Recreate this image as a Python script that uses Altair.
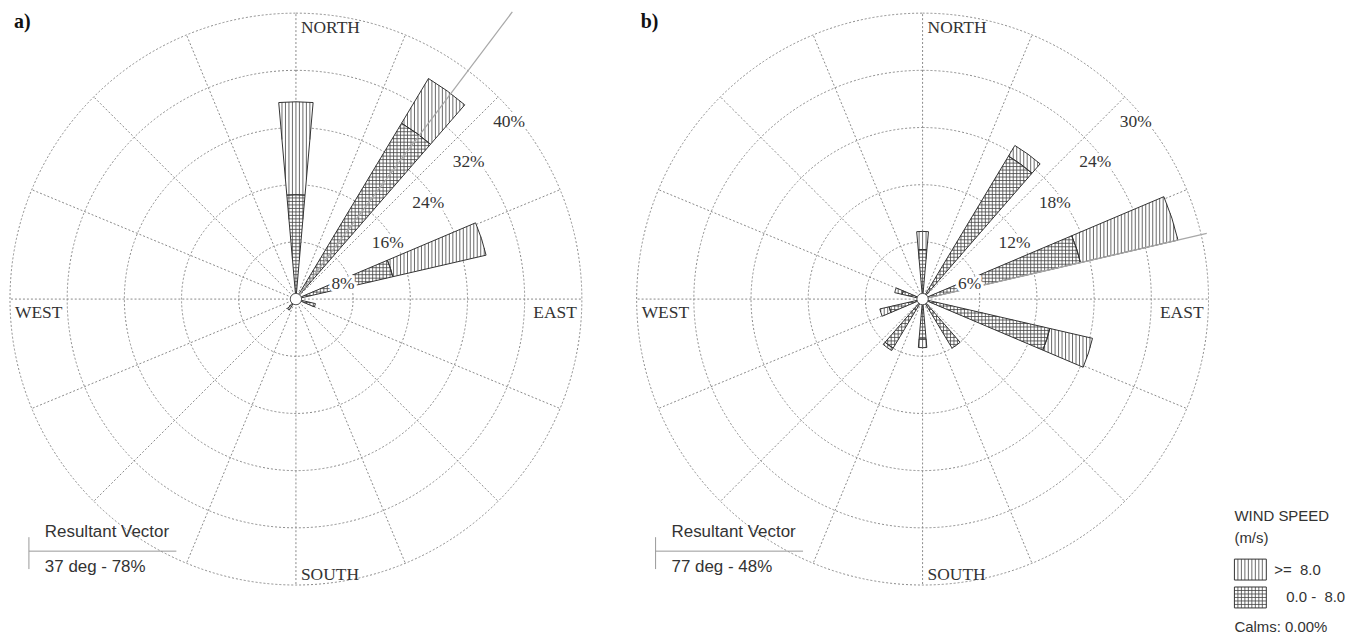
import math
import numpy as np
import pandas as pd
import altair as alt

# ---------------- data ----------------
directions_a = [0, 36, 72, 108, 216]
low_a = [14.6, 28.7, 13.9, 2.8, 1.8]        # 0.0 - 8.0 m/s, %
high_a = [13.0, 7.3, 13.4, 0.0, 0.0]        # >= 8.0 m/s, %

directions_b = [0, 36, 72, 108, 144, 180, 216, 252, 288]
low_b = [5.2, 17.5, 17.0, 13.7, 6.0, 4.2, 6.0, 3.6, 2.2]
high_b = [1.9, 1.3, 10.5, 4.6, 0.0, 0.9, 0.3, 1.0, 0.8]

ring_step = [8, 6]            # % per ring, panel a / b
ring_count = 5
resultant_dir = [37, 77]      # deg
resultant_pct = [78, 48]      # %
resultant_len = [50.3, 30.6]  # drawn length of the vector line, %
panel_tags = ["a)", "b)"]
compass_names = ["NORTH", "EAST", "SOUTH", "WEST"]
spoke_bearings = [i * 22.5 for i in range(16)]
speed_classes = [">=\u00a0\u00a08.0", "0.0 -\u00a0\u00a08.0"]
speed_kinds = ["high", "low"]
calms_pct = 0.00
sector_width = 10

# ---------------- style / layout ----------------
R_PX = 287
SIZE = 2 * R_PX
HATCH_PX = 3.5
GRID = "#8a8a8a"
INK = "#333333"
HATCH = "#444444"
TXT = "#333333"
SERIF = "Liberation Serif"
SANS = "Liberation Sans"


def wedge_mask(x, y, c, r0, r1, half):
    r = np.hypot(x, y)
    th = np.degrees(np.arctan2(x, y)) % 360.0
    d = (th - c + 180.0) % 360.0 - 180.0
    return (r >= r0) & (r <= r1) & (np.abs(d) <= half)


def runs(mask):
    m = np.concatenate([[0], mask.astype(np.int8), [0]])
    dm = np.diff(m)
    starts = np.flatnonzero(dm == 1)
    ends = np.flatnonzero(dm == -1) - 1
    return list(zip(starts, ends))


def hatch_lines(segs, spacing):
    rows = []
    half = sector_width / 2
    for _, s in segs.iterrows():
        c, r0, r1 = float(s["dir"]), float(s["r0"]), float(s["r1"])
        if r1 <= r0:
            continue
        angs = np.radians(np.linspace(c - half, c + half, 61))
        bx = np.concatenate([r0 * np.sin(angs), r1 * np.sin(angs)])
        by = np.concatenate([r0 * np.cos(angs), r1 * np.cos(angs)])
        xmin, xmax, ymin, ymax = bx.min(), bx.max(), by.min(), by.max()
        fine = spacing / 30.0
        samp = np.arange(ymin, ymax + fine, fine)
        for xv in np.arange(np.ceil(xmin / spacing), np.floor(xmax / spacing) + 1) * spacing:
            mk = wedge_mask(np.full_like(samp, xv), samp, c, r0, r1, half)
            for a, b in runs(mk):
                if b > a:
                    rows.append((xv, samp[a], xv, samp[b]))
        if s["kind"] == "low":
            samp = np.arange(xmin, xmax + fine, fine)
            for yv in np.arange(np.ceil(ymin / spacing), np.floor(ymax / spacing) + 1) * spacing:
                mk = wedge_mask(samp, np.full_like(samp, yv), c, r0, r1, half)
                for a, b in runs(mk):
                    if b > a:
                        rows.append((samp[a], yv, samp[b], yv))
    return pd.DataFrame(rows, columns=["x", "y", "x2", "y2"])


def panel(i, dirs, low, high):
    step = ring_step[i]
    D = step * ring_count
    spacing = HATCH_PX * D / R_PX
    xsc = alt.Scale(domain=[-D, D], nice=False, zero=False)
    ysc = alt.Scale(domain=[-D, D], nice=False, zero=False)
    tsc = alt.Scale(domain=[0, 360], range=[0, 2 * math.pi])
    rsc = alt.Scale(type="linear", domain=[0, D], range=[0, R_PX], nice=False, zero=True)

    def XY(xf="x", yf="y"):
        return dict(x=alt.X(f"{xf}:Q", scale=xsc, axis=None),
                    y=alt.Y(f"{yf}:Q", scale=ysc, axis=None))

    layers = []

    rings = pd.DataFrame({"r": [step * (k + 1) for k in range(ring_count)]})
    rings["t0"] = 0.0
    rings["t1"] = 360.0
    layers.append(alt.Chart(rings).mark_arc(fill="white", fillOpacity=0, stroke=GRID,
                                            strokeDash=[2, 2], strokeWidth=1).encode(
        theta=alt.Theta("t0:Q", scale=tsc, stack=None), theta2="t1:Q",
        radius=alt.Radius("r:Q", scale=rsc)))

    sp = pd.DataFrame({"b": spoke_bearings})
    sp["x"] = 0.0
    sp["y"] = 0.0
    sp["x2"] = D * np.sin(np.radians(sp["b"]))
    sp["y2"] = D * np.cos(np.radians(sp["b"]))
    layers.append(alt.Chart(sp).mark_rule(color=GRID, strokeDash=[2, 2], strokeWidth=1).encode(
        **XY(), x2="x2:Q", y2="y2:Q"))

    seg_rows = []
    for d, lo, hi in zip(dirs, low, high):
        seg_rows.append(dict(dir=d, r0=0.0, r1=lo, kind="low"))
        if hi > 0:
            seg_rows.append(dict(dir=d, r0=lo, r1=lo + hi, kind="high"))
    segs = pd.DataFrame(seg_rows)
    segs["t0"] = segs["dir"] - sector_width / 2
    segs["t1"] = segs["dir"] + sector_width / 2
    arc_enc = dict(theta=alt.Theta("t0:Q", scale=tsc, stack=None), theta2="t1:Q",
                   radius=alt.Radius("r1:Q", scale=rsc), radius2="r0:Q")
    layers.append(alt.Chart(segs).mark_arc(fill="white", strokeWidth=0).encode(**arc_enc))

    hl = hatch_lines(segs, spacing)
    layers.append(alt.Chart(hl).mark_rule(color=HATCH, strokeWidth=0.8).encode(
        **XY(), x2="x2:Q", y2="y2:Q"))

    layers.append(alt.Chart(segs).mark_arc(fill="white", fillOpacity=0, stroke=INK,
                                           strokeWidth=1).encode(**arc_enc))

    rv = pd.DataFrame({"x": [0.0], "y": [0.0],
                       "x2": [resultant_len[i] * math.sin(math.radians(resultant_dir[i]))],
                       "y2": [resultant_len[i] * math.cos(math.radians(resultant_dir[i]))]})
    layers.append(alt.Chart(rv).mark_rule(color="#a8a8a8", strokeWidth=1.3).encode(
        **XY(), x2="x2:Q", y2="y2:Q"))

    layers.append(alt.Chart(pd.DataFrame({"x": [0.0], "y": [0.0]})).mark_point(
        shape="circle", size=130, filled=True, fill="white", stroke="#555555",
        strokeWidth=1, opacity=1).encode(**XY()))

    lab = pd.DataFrame({"r": [step * (k + 1) for k in range(ring_count)]})
    lab["x"] = lab["r"] * math.sin(math.radians(45))
    lab["y"] = lab["r"] * math.cos(math.radians(45))
    lab["t"] = lab["r"].astype(int).astype(str) + "%"
    common = dict(font=SERIF, fontSize=17.5, align="left", baseline="middle", dx=-5, dy=25)
    layers.append(alt.Chart(lab).mark_text(color="white", stroke="white", strokeWidth=6,
                                           strokeJoin="round", **common).encode(**XY(), text="t:N"))
    layers.append(alt.Chart(lab).mark_text(color=TXT, **common).encode(**XY(), text="t:N"))

    cdf = pd.DataFrame({"name": compass_names, "b": [0, 90, 180, 270]})
    cdf["x"] = D * np.sin(np.radians(cdf["b"]))
    cdf["y"] = D * np.cos(np.radians(cdf["b"]))
    offs = {"NORTH": ("left", 5, 15), "EAST": ("right", -5, 14),
            "SOUTH": ("left", 5, -10), "WEST": ("left", 5, 14)}
    for nm in compass_names:
        al, dx, dy = offs[nm]
        layers.append(alt.Chart(cdf[cdf["name"] == nm]).mark_text(
            font=SERIF, fontSize=17.5, color=TXT, align=al, baseline="middle", dx=dx, dy=dy
        ).encode(**XY(), text="name:N"))

    one = pd.DataFrame({"t": [f"{resultant_dir[i]} deg - {resultant_pct[i]}%"]})
    layers.append(alt.Chart(one).mark_rule(color="#999999", strokeWidth=1).encode(
        x=alt.value(19), x2=alt.value(167), y=alt.value(540)))
    layers.append(alt.Chart(one).mark_rule(color="#999999", strokeWidth=1).encode(
        x=alt.value(19), y=alt.value(526), y2=alt.value(558)))
    layers.append(alt.Chart(pd.DataFrame({"t": ["Resultant Vector"]})).mark_text(
        font=SANS, fontSize=17, color=TXT, align="left", baseline="middle").encode(
        x=alt.value(35), y=alt.value(521), text="t:N"))
    layers.append(alt.Chart(one).mark_text(
        font=SANS, fontSize=17, color=TXT, align="left", baseline="middle").encode(
        x=alt.value(35), y=alt.value(556), text="t:N"))

    layers.append(alt.Chart(pd.DataFrame({"t": [panel_tags[i]]})).mark_text(
        font=SERIF, fontSize=20, fontWeight="bold", color="#111111", align="left",
        baseline="middle").encode(x=alt.value(4), y=alt.value(9), text="t:N"))

    if i == 0:
        layers.append(alt.Chart(one).mark_rule(opacity=0, strokeWidth=0.01).encode(
            x=alt.value(0), x2=alt.value(2), y=alt.value(-4)))

    return alt.layer(*layers).properties(width=SIZE, height=SIZE)


def legend():
    layers = []
    box_w, box_h, box_top, box_gap = 32, 21, 548, 28
    boxes = pd.DataFrame({"cls": speed_classes, "kind": speed_kinds})
    boxes["x"] = 0.0
    boxes["x2"] = float(box_w)
    boxes["y"] = box_top + box_gap * np.arange(len(boxes))
    boxes["y2"] = boxes["y"] + box_h
    rows = []
    for _, b in boxes.iterrows():
        for xv in np.arange(b["x"] + HATCH_PX, b["x2"] - 0.5, HATCH_PX):
            rows.append((xv, b["y"], xv, b["y2"]))
        if b["kind"] == "low":
            for yv in np.arange(b["y"] + HATCH_PX, b["y2"] - 0.5, HATCH_PX):
                rows.append((b["x"], yv, b["x2"], yv))
    hl = pd.DataFrame(rows, columns=["x", "y", "x2", "y2"])
    enc = dict(x=alt.X("x:Q", scale=None, axis=None), y=alt.Y("y:Q", scale=None, axis=None))
    layers.append(alt.Chart(hl).mark_rule(color=HATCH, strokeWidth=0.8).encode(
        **enc, x2="x2:Q", y2="y2:Q"))
    layers.append(alt.Chart(boxes).mark_rect(fillOpacity=0, fill="white", stroke=INK,
                                             strokeWidth=1).encode(**enc, x2="x2:Q", y2="y2:Q"))
    boxes["tx"] = [40.0, 52.0]
    boxes["ty"] = boxes["y"] + box_h / 2
    layers.append(alt.Chart(boxes).mark_text(font=SANS, fontSize=15, color=TXT, align="left",
                                             baseline="middle").encode(
        x=alt.X("tx:Q", scale=None, axis=None), y=alt.Y("ty:Q", scale=None, axis=None),
        text="cls:N"))
    heads = pd.DataFrame({"t": ["WIND SPEED", "(m/s)", f"Calms: {calms_pct:.2f}%"]})
    heads["y"] = [505.0, 527.0, 616.0]
    heads["x"] = 0.0
    layers.append(alt.Chart(heads).mark_text(font=SANS, fontSize=15, color=TXT, align="left",
                                             baseline="middle").encode(**enc, text="t:N"))
    return alt.layer(*layers).properties(width=95, height=SIZE)


pa = panel(0, directions_a, low_a, high_a)
pb = panel(1, directions_b, low_b, high_b)
right = alt.hconcat(pb, legend(), spacing=26, bounds="flush")
chart = alt.hconcat(pa, right, spacing=55, bounds="flush").properties(
    padding={"left": 0, "top": 0, "right": 0, "bottom": 0}
).configure_view(stroke=None)

chart.save("out.html", embed_options={"renderer": "svg", "actions": False})
